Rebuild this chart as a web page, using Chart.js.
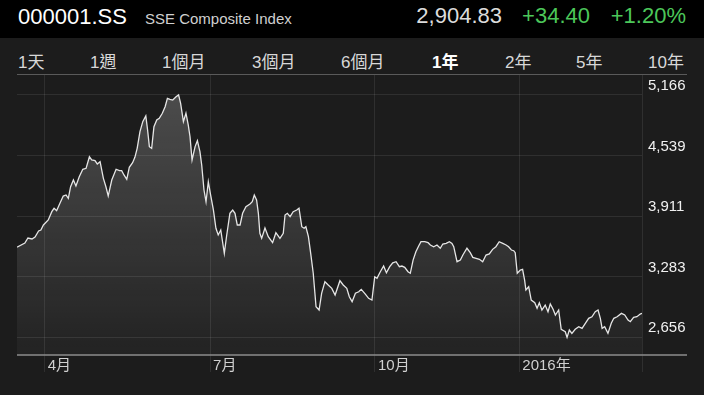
<!DOCTYPE html>
<html>
<head>
<meta charset="utf-8">
<script src="https://cdn.jsdelivr.net/npm/chart.js@4"></script>
<style>
html, body { margin: 0; padding: 0; width: 704px; height: 395px; overflow: hidden; background: #1c1c1c;
  font-family: "Liberation Sans", "Noto Sans CJK TC", sans-serif; }
#head { position: absolute; left: 0; top: 0; width: 704px; height: 38px; background: #000; }
.t { position: absolute; white-space: nowrap; }
#sym { left: 18px; top: 6px; font-size: 22px; line-height: 22px; color: #fff; }
#name { left: 145px; top: 11px; font-size: 15px; line-height: 15px; color: #d0d0d0; }
#price { right: 202px; top: 5px; font-size: 22px; line-height: 22px; color: #dcdcdc; }
#chg { right: 114px; top: 5px; font-size: 22px; line-height: 22px; color: #4cc75a; }
#pct { right: 18px; top: 5px; font-size: 22px; line-height: 22px; color: #4cc75a; }
.tab { position: absolute; top: 54px; font-size: 17px; line-height: 17px; color: #d8d8d8; white-space: nowrap; }
.tab.on { color: #fff; font-weight: bold; }
#rule { position: absolute; left: 17px; top: 74px; width: 670px; height: 1px; background: #5a5a5a; }
#c { position: absolute; left: 0; top: 0; }
</style>
</head>
<body>
<div id="head"></div>
<div class="t" id="sym">000001.SS</div>
<div class="t" id="name">SSE Composite Index</div>
<div class="t" id="price">2,904.83</div>
<div class="t" id="chg">+34.40</div>
<div class="t" id="pct">+1.20%</div>
<div id="tabs"></div>
<div id="rule"></div>
<canvas id="c" width="704" height="395"></canvas>
<script>
// SSE Composite, one year of closes (x = trading session index)
const tradingDays = [0, 3.1, 4.3, 5.9, 7.1, 8.5, 9.4, 10.4, 12.3, 13.7, 14.6, 15.6, 16.9, 18.2, 19.3, 20.2, 21.1, 22.2, 23.2, 24.5,
  25.9, 27.2, 28.5, 29.4, 30.7, 31.6, 32.7, 34.0, 35.0, 35.9, 37.3, 39.0, 40.3, 41.2, 42.1, 43.2, 44.2, 45.5, 46.4, 47.3,
  48.4, 49.5, 50.7, 51.4, 52.1, 53.0, 53.9, 55.0, 56.0, 57.2, 58.3, 59.2, 60.2, 61.3, 62.6, 63.6, 64.4, 65.5, 66.5, 67.4,
  68.1, 68.9, 70.1, 71.0, 72.0, 72.7, 73.6, 74.4, 75.3, 76.2, 77.3, 78.3, 79.2, 80.2, 81.6, 82.5, 83.8, 84.9, 85.8, 86.7,
  87.8, 88.8, 90.1, 91.7, 92.6, 93.4, 94.3, 95.0, 95.6, 96.3, 97.6, 98.9, 100.6, 101.9, 103.5, 104.8, 105.5, 106.4, 107.5, 108.7,
  110.1, 111.0, 112.1, 113.0, 113.7, 114.7, 115.6, 116.6, 117.7, 118.9, 119.9, 121.2, 122.5, 123.9, 125.2, 127.1, 128.4, 129.8, 130.8, 131.9,
  133.2, 134.5, 135.5, 137.1, 138.4, 139.7, 140.8, 141.7, 143.0, 144.3, 145.4, 146.7, 147.9, 149.2, 150.5, 151.5, 152.6, 153.9, 154.8, 155.9,
  157.0, 158.1, 159.0, 160.5, 161.8, 162.7, 164.0, 165.3, 166.6, 167.6, 168.9, 170.2, 171.2, 171.9, 173.2, 174.5, 175.5, 177.1, 178.4, 179.4,
  180.7, 182.0, 183.3, 184.6, 185.9, 187.2, 188.5, 189.8, 191.2, 192.5, 193.5, 194.6, 195.5, 196.1, 196.9, 198.1, 199.0, 199.8, 200.3, 201.4,
  202.4, 203.8, 204.7, 205.6, 206.6, 207.9, 209.0, 209.9, 211.0, 211.9, 213.2, 214.2, 215.8, 216.5, 217.4, 218.4, 219.7, 221.1, 222.4, 223.7,
  225.0, 226.3, 227.6, 228.7, 229.6, 230.3, 231.3, 232.6, 233.9, 234.9, 236.2, 237.9, 239.2, 240.5, 241.4, 242.7, 244.0, 245.3, 246.0];
const closes = [3590, 3632, 3684, 3674, 3695, 3757, 3767, 3819, 3871, 3957, 3992, 3967, 4044, 4119, 4130, 4095, 4215, 4285, 4223, 4319,
  4396, 4406, 4526, 4492, 4485, 4451, 4474, 4302, 4215, 4119, 4285, 4396, 4381, 4381, 4337, 4292, 4416, 4464, 4520, 4613,
  4785, 4889, 4948, 4803, 4630, 4613, 4837, 4906, 4924, 4976, 5044, 5131, 5120, 5113, 5147, 5166, 5079, 4889, 4976, 4855,
  4733, 4492, 4631, 4692, 4578, 4440, 4181, 4060, 4267, 4130, 3975, 3785, 3716, 3767, 3526, 3705, 3940, 3974, 3940, 3819,
  3819, 3940, 4008, 4036, 4060, 4129, 4078, 3940, 3733, 3681, 3788, 3698, 3636, 3739, 3681, 3733, 3922, 3940, 3905, 3957,
  3974, 3992, 3801, 3785, 3801, 3698, 3526, 3319, 2973, 2939, 3112, 3232, 3198, 3163, 3094, 3242, 3198, 3163, 3076, 3025,
  3112, 3128, 3153, 3104, 3060, 3042, 3283, 3267, 3335, 3394, 3325, 3387, 3428, 3439, 3387, 3394, 3381, 3335, 3319, 3456,
  3542, 3601, 3646, 3646, 3636, 3612, 3594, 3612, 3578, 3622, 3629, 3646, 3629, 3594, 3439, 3456, 3508, 3578, 3532, 3484,
  3474, 3464, 3439, 3508, 3519, 3567, 3594, 3646, 3629, 3612, 3594, 3560, 3553, 3532, 3319, 3353, 3360, 3249, 3146, 3180,
  3042, 3014, 2956, 3014, 2939, 2990, 2921, 3001, 2946, 2887, 2939, 2739, 2714, 2656, 2732, 2697, 2739, 2766, 2749, 2801,
  2853, 2869, 2921, 2939, 2853, 2749, 2766, 2697, 2801, 2853, 2869, 2904, 2887, 2835, 2818, 2863, 2869, 2897, 2905];

const monthTickDays = [10.9, 76, 140.9, 197.7, 246];
const monthTickLabels = ['4月', '7月', '10月', '2016年', ''];
const priceTicks = [2656, 3283, 3911, 4539, 5166];
const priceMin = 2473, priceMax = 5372;

const rangeTabs = ['1天', '1週', '1個月', '3個月', '6個月', '1年', '2年', '5年', '10年'];
const tabLeft = [18, 90, 162, 252, 341, 432, 505, 576, 648];
const tabBox = document.getElementById('tabs');
rangeTabs.forEach((t, i) => {
  const s = document.createElement('span');
  s.className = 'tab' + (t === '1年' ? ' on' : '');
  s.style.left = tabLeft[i] + 'px';
  s.textContent = t;
  tabBox.appendChild(s);
});

const gridColor = 'rgba(255,255,255,0.085)';
const axisFont = { family: '"Liberation Sans", "Noto Sans CJK TC", sans-serif', size: 15 };

const baseLine = {
  id: 'baseLine',
  afterDraw(chart) {
    const { ctx, chartArea } = chart;
    ctx.save();
    ctx.strokeStyle = '#8c8c8c';
    ctx.lineWidth = 1.5;
    ctx.beginPath();
    ctx.moveTo(chartArea.left, chartArea.bottom);
    ctx.lineTo(chart.width - 17, chartArea.bottom);
    ctx.stroke();
    ctx.restore();
  }
};

new Chart(document.getElementById('c'), {
  type: 'line',
  data: {
    datasets: [{
      data: tradingDays.map((d, i) => ({ x: d, y: closes[i] })),
      borderColor: '#e6e6e6',
      borderWidth: 1.3,
      pointRadius: 0,
      tension: 0,
      fill: 'start',
      backgroundColor: function (context) {
        const a = context.chart.chartArea;
        if (!a) return 'rgba(255,255,255,0.1)';
        const g = context.chart.ctx.createLinearGradient(0, a.top + 20, 0, a.bottom);
        g.addColorStop(0, 'rgba(255,255,255,0.21)');
        g.addColorStop(1, 'rgba(255,255,255,0.03)');
        return g;
      }
    }]
  },
  options: {
    responsive: false, animation: false, devicePixelRatio: 1,
    layout: { padding: { left: 17, right: 18, top: 75, bottom: 0 } },
    plugins: { legend: { display: false }, tooltip: { enabled: false } },
    scales: {
      x: {
        type: 'linear', min: 0, max: 246,
        afterBuildTicks: s => { s.ticks = monthTickDays.map(v => ({ value: v })); },
        afterFit: s => { s.height = 40; },
        border: { display: false },
        grid: { color: gridColor, lineWidth: 1, tickLength: 17, drawTicks: true },
        ticks: {
          align: 'start', labelOffset: 3, padding: -15, maxRotation: 0, autoSkip: false,
          color: '#d0d0d0', font: axisFont,
          callback: (v, i) => monthTickLabels[i]
        }
      },
      y: {
        position: 'right', min: priceMin, max: priceMax,
        afterBuildTicks: s => { s.ticks = priceTicks.map(v => ({ value: v })); },
        afterFit: s => { s.width = 44; },
        border: { display: false },
        grid: { color: gridColor, lineWidth: 1, drawTicks: false },
        ticks: {
          crossAlign: 'near', padding: 6, labelOffset: -9,
          color: '#f0f0f0', font: axisFont,
          callback: v => v.toLocaleString('en-US')
        }
      }
    }
  },
  plugins: [baseLine]
});
</script>
</body>
</html>
